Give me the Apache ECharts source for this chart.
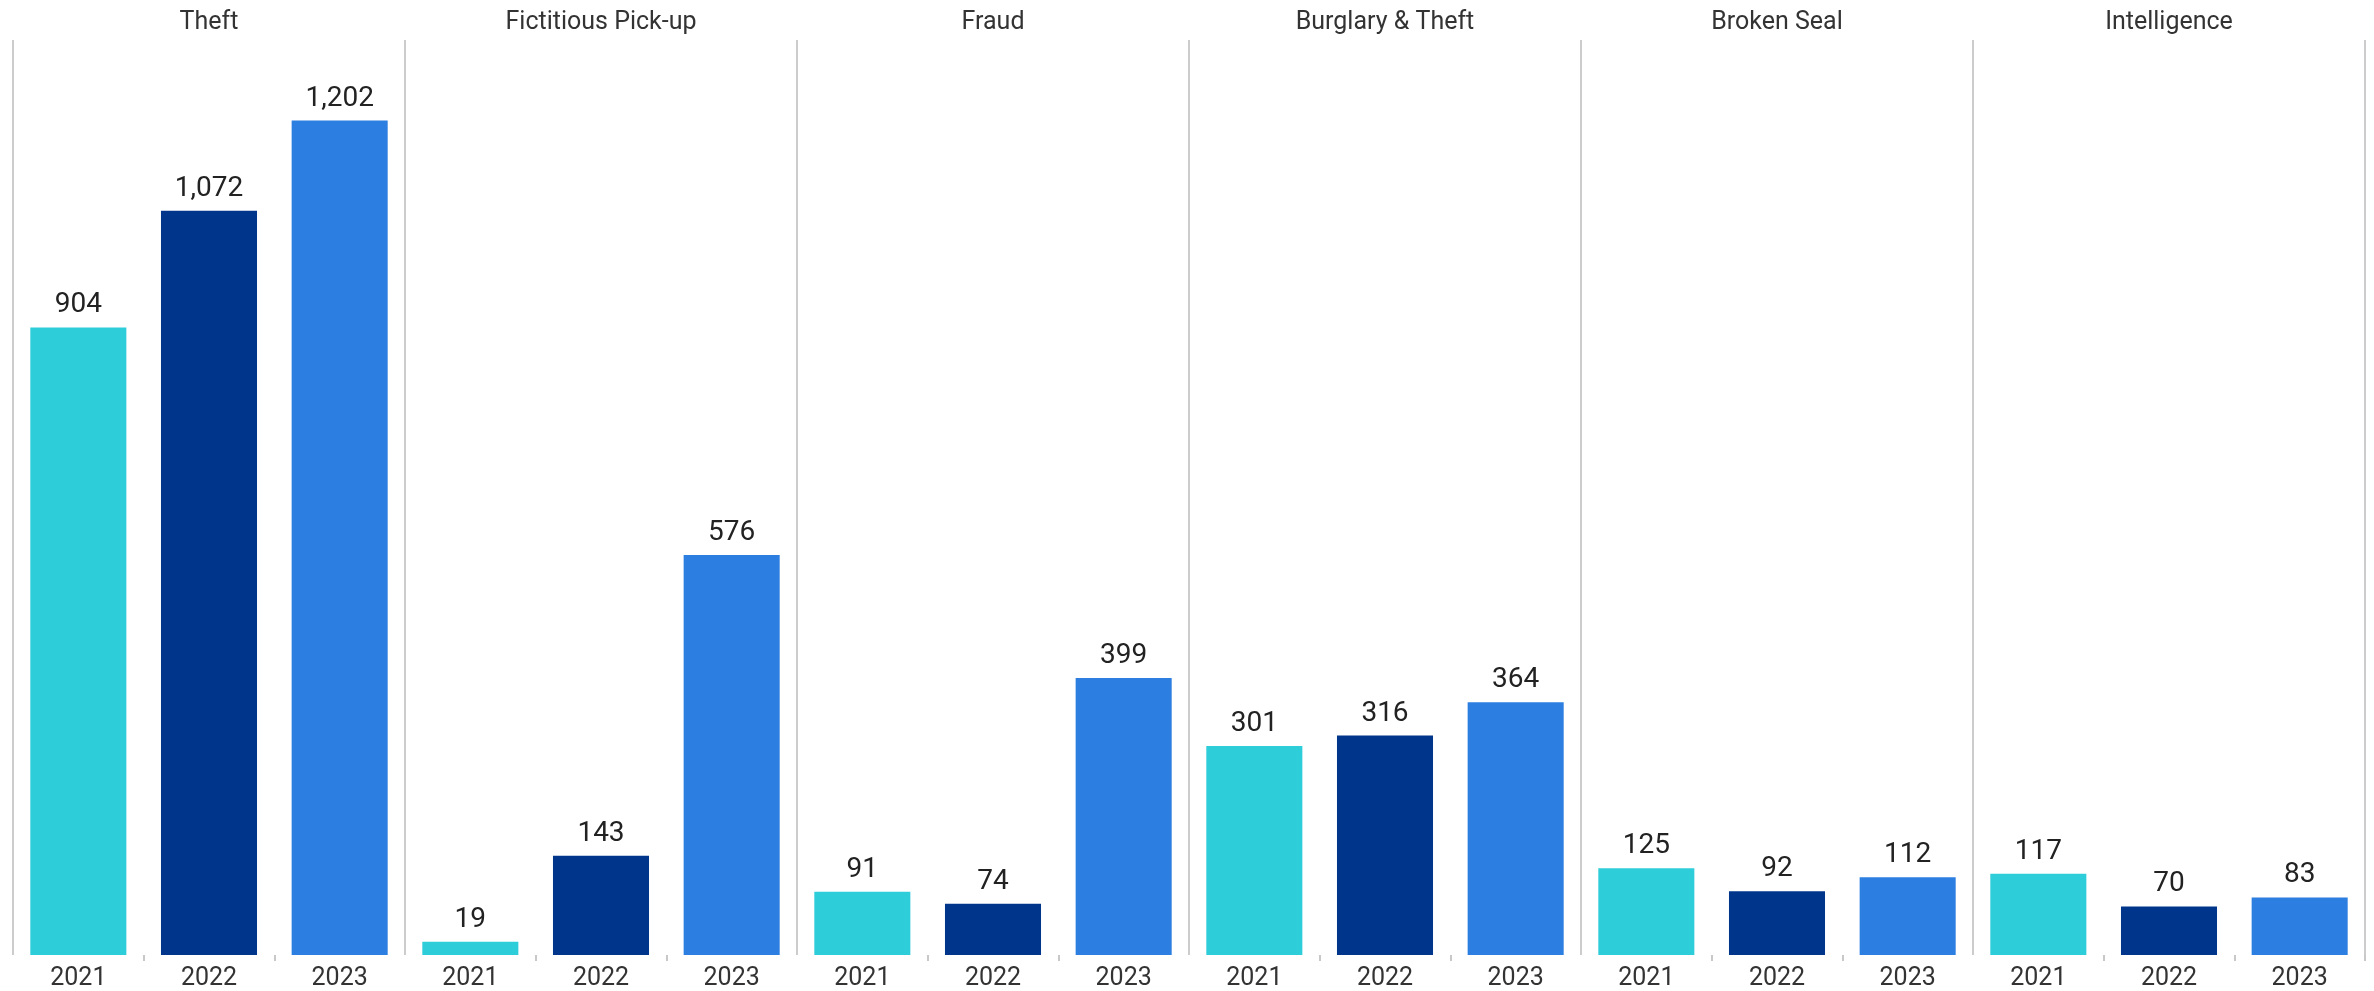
<!DOCTYPE html>
<html>
<head>
<meta charset="utf-8">
<script src="https://cdn.jsdelivr.net/npm/echarts@6/dist/echarts.min.js"></script>
<style>
  html, body { margin: 0; padding: 0; background: #ffffff; }
  #chart { width: 2374px; height: 991px; }
</style>
</head>
<body>
<div id="chart"></div>
<script>
// Incident types and reporting years
const groups = ['Theft', 'Fictitious Pick-up', 'Fraud', 'Burglary & Theft', 'Broken Seal', 'Intelligence'];
const years = ['2021', '2022', '2023'];
const yearColors = ['#2ECDDA', '#00358C', '#2C7FE0'];

// Incident counts per type, one value per year (2021, 2022, 2023)
const theft = [904, 1072, 1202];
const fictitiousPickup = [19, 143, 576];
const fraud = [91, 74, 399];
const burglaryTheft = [301, 316, 364];
const brokenSeal = [125, 92, 112];
const intelligence = [117, 70, 83];

const groupValues = [theft, fictitiousPickup, fraud, burglaryTheft, brokenSeal, intelligence];

// Flatten into one category axis: every group gets its three years side by side
const xLabels = [];
const barData = [];
groupValues.forEach(function (vals) {
  vals.forEach(function (v, i) {
    xLabels.push(years[i]);
    barData.push({ value: v, itemStyle: { color: yearColors[i] } });
  });
});

const chart = echarts.init(document.getElementById('chart'), null, { renderer: 'canvas' });

chart.setOption({
  animation: false,
  backgroundColor: '#ffffff',
  textStyle: { fontFamily: 'Roboto, "Noto Sans", sans-serif' },
  grid: { left: 13, right: 9, top: 40, bottom: 34, containLabel: false },
  xAxis: [
    {
      type: 'category',
      data: xLabels,
      position: 'bottom',
      axisLine: { show: false },
      axisTick: {
        show: true,
        length: 6,
        lineStyle: { color: '#c8c8c8', width: 2 },
        interval: function (index) { return index % 3 !== 0; }
      },
      axisLabel: { color: '#333333', fontSize: 25, margin: 11, interval: 0 },
      splitLine: { show: false }
    },
    {
      type: 'category',
      data: groups,
      position: 'top',
      axisLine: { show: false },
      axisTick: { show: false },
      axisLabel: { color: '#333333', fontSize: 25, margin: 5, interval: 0 },
      splitLine: { show: true, interval: 0, lineStyle: { color: '#cccccc', width: 2 } }
    }
  ],
  yAxis: {
    type: 'value',
    min: 0,
    max: 1318,
    show: false,
    splitLine: { show: false }
  },
  series: [
    {
      type: 'bar',
      xAxisIndex: 0,
      data: barData,
      barWidth: '73.5%',
      label: {
        show: true,
        position: 'top',
        distance: 8,
        color: '#222222',
        fontSize: 28,
        formatter: function (p) { return p.value.toLocaleString('en-US'); }
      }
    }
  ]
});
</script>
</body>
</html>
